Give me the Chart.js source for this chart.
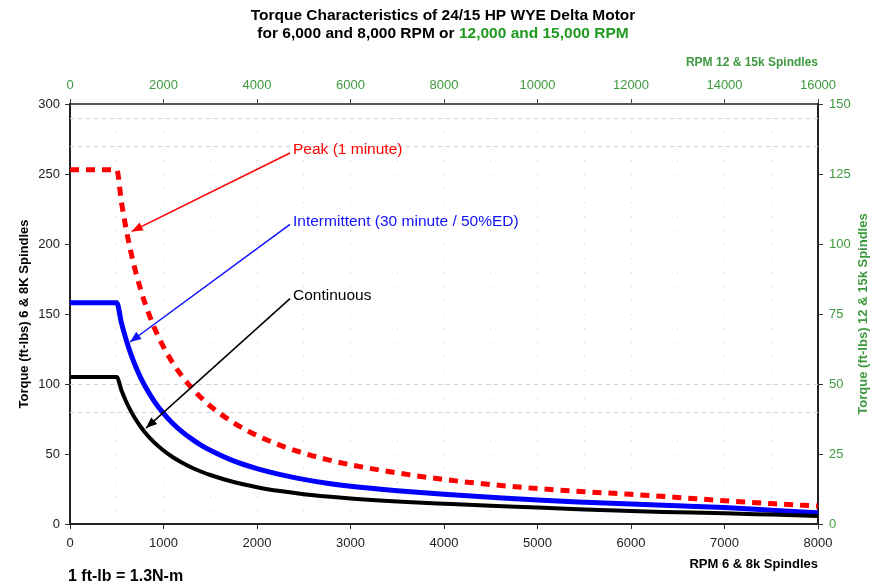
<!DOCTYPE html>
<html>
<head>
<meta charset="utf-8">
<script src="https://cdn.jsdelivr.net/npm/chart.js@4.4.1/dist/chart.umd.min.js"></script>
<style>
    body { margin: 0; background: #fff; }
    canvas { display: block; }
</style>
</head>
<body>
<canvas id="chartTorque" width="892" height="587"></canvas>
<script>
// values (RPM 6 & 8k spindles vs torque ft-lbs)
const rpm          = [0, 500, 550, 600, 650, 700, 750, 800, 900, 1000, 1100, 1200, 1300, 1400, 1500, 1750, 2000, 2250, 2500, 2750, 3000, 3500, 4000, 4500, 5000, 5500, 6000, 6500, 7000, 7500, 8000];
const continuous   = [105, 105, 95.5, 87.5, 80.8, 75, 70, 65.6, 58.3, 52.5, 47.7, 43.8, 40.4, 37.5, 35, 30, 26.3, 23.5, 21.3, 19.6, 18.2, 16.1, 14.5, 13, 11.8, 10.4, 9.2, 8.4, 7.6, 6.7, 5.8];
const intermittent = [158, 158, 143.6, 131.7, 121.5, 112.9, 105.3, 98.8, 87.8, 79, 71.8, 65.8, 60.8, 56.4, 52.7, 45.1, 39.6, 35.3, 31.9, 29.1, 27, 23.8, 21.2, 19.1, 17.1, 15.6, 14.2, 13, 11.7, 9.9, 8];
const peak         = [253, 253, 230, 210.8, 194.6, 180.7, 168.7, 158.1, 140.6, 126.5, 115, 105.4, 97.3, 90.4, 84.3, 72.3, 63.3, 56.2, 50.6, 46, 42.3, 36.5, 31.8, 28.2, 25.3, 23.1, 21.2, 19, 16.6, 14.6, 12.8];

const GREEN = '#3f9a3f';
const FONT = 'Arial, "Liberation Sans", sans-serif';

// callouts: text start and arrow tip, in data units (rpm, ft-lbs)
const notes = [
    { text: 'Peak (1 minute)', color: '#ff0000', from: [2353, 265], tip: [660, 209] },
    { text: 'Intermittent (30 minute / 50%ED)', color: '#1010ff', from: [2353, 214], tip: [642, 130] },
    { text: 'Continuous', color: '#000000', from: [2353, 161], tip: [813, 68.5] }
];
const dashedLevels = [80, 100, 270, 290];

function pts(ys) {
    return rpm.map((r, i) => ({ x: r, y: ys[i] }));
}

const overlay = {
    id: 'overlay',
    beforeDatasetsDraw(chart) {
        const { ctx, chartArea: a, scales } = chart;
        ctx.save();
        ctx.strokeStyle = '#d4d4d4';
        ctx.lineWidth = 1;
        ctx.setLineDash([4, 4]);
        dashedLevels.forEach(v => {
            const py = Math.round(scales.y.getPixelForValue(v)) + 0.5;
            ctx.beginPath();
            ctx.moveTo(a.left, py);
            ctx.lineTo(a.right, py);
            ctx.stroke();
        });
        ctx.restore();
    },
    afterDraw(chart) {
        const { ctx, chartArea: a, scales } = chart;
        ctx.save();

        // title
        ctx.textBaseline = 'middle';
        ctx.font = 'bold 15.5px ' + FONT;
        ctx.fillStyle = '#000';
        ctx.textAlign = 'center';
        ctx.fillText('Torque Characteristics of 24/15 HP WYE Delta Motor', 443, 16);
        const p1 = 'for 6,000 and 8,000 RPM or ', p2 = '12,000 and 15,000 RPM';
        const w1 = ctx.measureText(p1).width, w2 = ctx.measureText(p2).width;
        const sx = 443 - (w1 + w2) / 2;
        ctx.textAlign = 'left';
        ctx.fillText(p1, sx, 34);
        ctx.fillStyle = '#1f9a1f';
        ctx.fillText(p2, sx + w1, 34);

        // axis titles
        ctx.font = 'bold 12px ' + FONT;
        ctx.fillStyle = GREEN;
        ctx.textAlign = 'right';
        ctx.fillText('RPM 12 & 15k Spindles', a.right, 63);
        ctx.font = 'bold 13px ' + FONT;
        ctx.fillStyle = '#000';
        ctx.fillText('RPM 6 & 8k Spindles', a.right, 564);

        const midY = (a.top + a.bottom) / 2;
        ctx.textAlign = 'center';
        ctx.save();
        ctx.translate(24, midY);
        ctx.rotate(-Math.PI / 2);
        ctx.fillText('Torque (ft-lbs) 6 & 8K Spindles', 0, 0);
        ctx.restore();
        ctx.save();
        ctx.translate(863, midY);
        ctx.rotate(-Math.PI / 2);
        ctx.fillStyle = GREEN;
        ctx.fillText('Torque (ft-lbs) 12 & 15k Spindles', 0, 0);
        ctx.restore();

        ctx.font = 'bold 16px ' + FONT;
        ctx.textAlign = 'left';
        ctx.fillStyle = '#000';
        ctx.fillText('1 ft-lb = 1.3N-m', 68, 577);

        // callouts with arrows
        ctx.font = '15.5px ' + FONT;
        notes.forEach(n => {
            const fx = scales.x.getPixelForValue(n.from[0]), fy = scales.y.getPixelForValue(n.from[1]);
            const tx = scales.x.getPixelForValue(n.tip[0]), ty = scales.y.getPixelForValue(n.tip[1]);
            ctx.strokeStyle = n.color;
            ctx.fillStyle = n.color;
            ctx.lineWidth = 1.5;
            ctx.beginPath();
            ctx.moveTo(fx, fy);
            ctx.lineTo(tx, ty);
            ctx.stroke();
            const ang = Math.atan2(ty - fy, tx - fx);
            const len = 11, half = 4.5;
            ctx.beginPath();
            ctx.moveTo(tx, ty);
            ctx.lineTo(tx - len * Math.cos(ang) + half * Math.sin(ang), ty - len * Math.sin(ang) - half * Math.cos(ang));
            ctx.lineTo(tx - len * Math.cos(ang) - half * Math.sin(ang), ty - len * Math.sin(ang) + half * Math.cos(ang));
            ctx.closePath();
            ctx.fill();
            ctx.fillText(n.text, fx + 3, fy - 3);
        });
        ctx.restore();
    }
};

const tickFont = { family: FONT, size: 13 };

new Chart(document.getElementById('chartTorque'), {
    type: 'line',
    data: {
        datasets: [
            { label: 'Continuous', data: pts(continuous), borderColor: '#000', borderWidth: 4, xAxisID: 'x', yAxisID: 'y' },
            { label: 'Intermittent', data: pts(intermittent), borderColor: '#0000ff', borderWidth: 5, xAxisID: 'x', yAxisID: 'y' },
            { label: 'Peak', data: pts(peak), borderColor: '#ff0000', borderWidth: 5, borderDash: [9, 7], xAxisID: 'x', yAxisID: 'y' }
        ]
    },
    options: {
        responsive: false,
        animation: false,
        layout: { padding: 0 },
        elements: { point: { radius: 0 }, line: { cubicInterpolationMode: 'monotone', borderCapStyle: 'butt' } },
        plugins: { legend: { display: false }, tooltip: { enabled: false } },
        scales: {
            x: {
                type: 'linear', position: 'bottom', min: 0, max: 8000,
                afterFit: s => { s.height = 63; },
                ticks: { stepSize: 500, autoSkip: false, maxRotation: 0, padding: 7, color: '#222', font: tickFont,
                    callback: v => (v % 1000 === 0 ? String(v) : '') },
                grid: { color: 'rgba(0,0,0,0.2)', lineWidth: 1, tickLength: 5,
                    tickColor: c => (c.tick && c.tick.value % 1000 === 0 ? '#333' : 'rgba(0,0,0,0)') },
                border: { color: '#222', width: 2, dash: [1, 13] }
            },
            x2: {
                type: 'linear', position: 'top', min: 0, max: 16000,
                afterFit: s => { s.height = 104; },
                ticks: { stepSize: 2000, autoSkip: false, maxRotation: 0, padding: 6, color: GREEN, font: tickFont,
                    callback: v => String(v) },
                grid: { drawOnChartArea: false, tickLength: 5, tickColor: '#444' },
                border: { color: '#555', width: 2 }
            },
            y: {
                type: 'linear', position: 'left', min: 0, max: 300,
                afterFit: s => { s.width = 70; },
                ticks: { stepSize: 50, padding: 5, color: '#222', font: tickFont },
                grid: { drawOnChartArea: false, tickLength: 5, tickColor: '#333' },
                border: { color: '#222', width: 2 }
            },
            y2: {
                type: 'linear', position: 'right', min: 0, max: 150,
                afterFit: s => { s.width = 74; },
                ticks: { stepSize: 25, padding: 6, color: GREEN, font: tickFont },
                grid: { drawOnChartArea: false, tickLength: 5, tickColor: '#333' },
                border: { color: '#222', width: 2 }
            }
        }
    },
    plugins: [overlay]
});
</script>
</body>
</html>
